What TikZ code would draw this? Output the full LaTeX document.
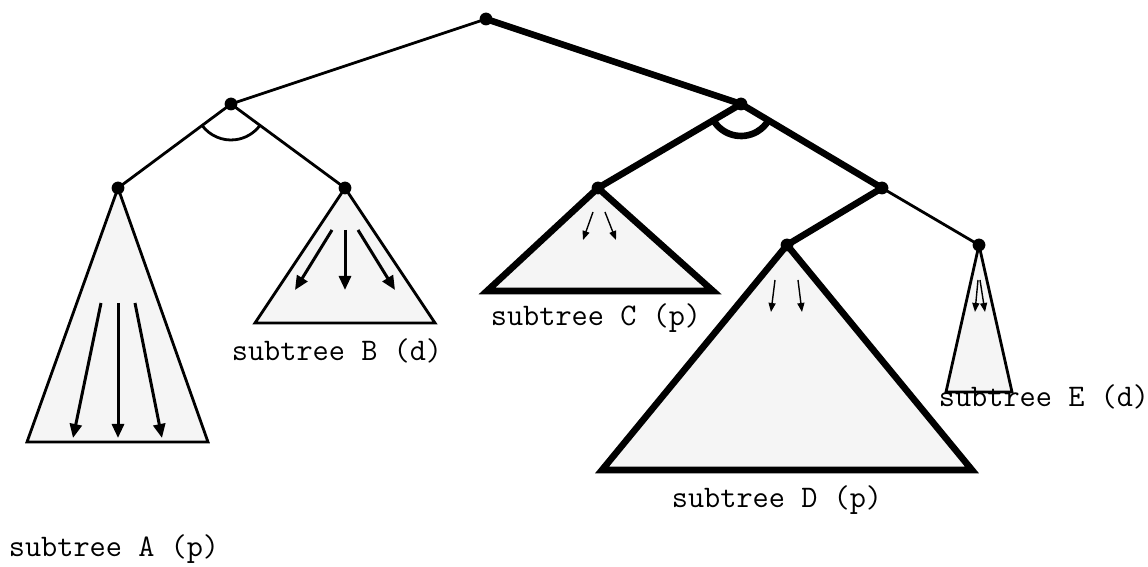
\documentclass[tikz,border=0pt]{standalone}
\usepackage{fontspec}
\usetikzlibrary{arrows.meta,calc}

\tikzset{
  treenode/.style={circle,fill=black,inner sep=0pt,minimum size=6.4pt},
  thinedge/.style={line width=1.4pt},
  thickedge/.style={line width=3.3pt},
  subtree/.style={fill=black!4,line join=miter},
  bigarrow/.style={line width=1.5pt,-{Triangle[length=7pt,width=6pt]}},
  smallarrow/.style={line width=0.7pt,-{Triangle[length=4.5pt,width=3.5pt]}},
  treelabel/.style={anchor=base,inner sep=0pt,font=\ttfamily\fontsize{15.7}{18}\selectfont}
}

\begin{document}
\begin{tikzpicture}[x=0.5pt,y=0.5pt]
    \useasboundingbox (0,0) rectangle (1148,567);

    % inner nodes
    \coordinate (root) at (486,548);
    \coordinate (left) at (231,463);
    \coordinate (right) at (741,463);
    \coordinate (rr) at (882,379);

    % subtree tops
    \coordinate (A) at (118,379);
    \coordinate (B) at (345,379);
    \coordinate (C) at (598,379);
    \coordinate (D) at (787,322);
    \coordinate (E) at (979,322);

    % subtree triangles
    \draw[subtree,thinedge] (A) -- (27,125) -- (208,125) -- cycle;
    \draw[subtree,thinedge] (B) -- (255,244) -- (435,244) -- cycle;
    \draw[subtree,thickedge] (C) -- (487,276) -- (713,276) -- cycle;
    \draw[subtree,thickedge] (D) -- (602,97) -- (972,97) -- cycle;
    \draw[subtree,thinedge] (E) -- (946,175) -- (1012,175) -- cycle;

    % tree edges
    \draw[thinedge] (root) -- (left);
    \draw[thickedge] (root) -- (right);
    \draw[thinedge] (left) -- (A);
    \draw[thinedge] (left) -- (B);
    \draw[thickedge] (right) -- (C);
    \draw[thickedge] (right) -- (rr);
    \draw[thickedge] (rr) -- (D);
    \draw[thinedge] (rr) -- (E);

    % and-arcs
    \draw[thinedge] ($(left)+(216.6:36)$) arc[start angle=216.6,end angle=323.6,radius=18pt];
    \draw[thickedge] ($(right)+(210.4:32)$) arc[start angle=210.4,end angle=329.2,radius=16pt];

    % dots
    \foreach \n in {root,left,right,rr,A,B,C,D,E}
      \node[treenode] (dot-\n) at (\n) {};

    % arrows in subtree A
    \draw[bigarrow] (101,264) -- (73,129);
    \draw[bigarrow] (118,264) -- (118,129);
    \draw[bigarrow] (135,264) -- (162,129);
    % arrows in subtree B
    \draw[bigarrow] (332,337) -- (295,277);
    \draw[bigarrow] (345,337) -- (345,277);
    \draw[bigarrow] (358,337) -- (395,277);
    % small arrows
    \draw[smallarrow] (593,355) -- (583,327);
    \draw[smallarrow] (605,355) -- (616,327);
    \draw[smallarrow] (775,287) -- (771,255);
    \draw[smallarrow] (798,287) -- (802,255);
    \draw[smallarrow] (978,287) -- (975,255);
    \draw[smallarrow] (980,287) -- (985,255);

    % labels
    \node[treelabel] (labA) at (114,10) {subtree A (p)};
    \node[treelabel] (labB) at (337,206) {subtree B (d)};
    \node[treelabel] (labC) at (596,241) {subtree C (p)};
    \node[treelabel] (labD) at (777,59) {subtree D (p)};
    \node[treelabel] (labE) at (1044,160) {subtree E (d)};
\end{tikzpicture}
\end{document}
